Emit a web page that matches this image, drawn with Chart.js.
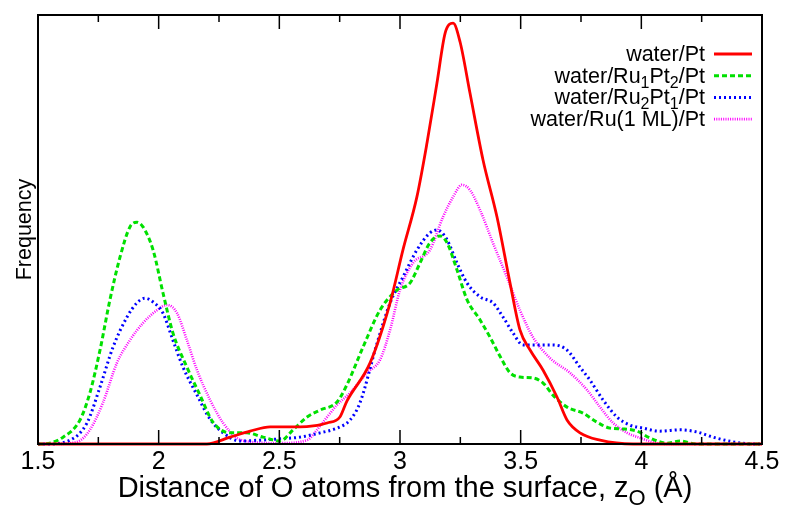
<!DOCTYPE html>
<html>
<head>
<meta charset="utf-8">
<script src="https://cdn.jsdelivr.net/npm/chart.js@4.4.0/dist/chart.umd.min.js"></script>
<style>
  html, body { margin: 0; padding: 0; background: #fff; }
</style>
</head>
<body>
<canvas id="dist" width="786" height="505"></canvas>
<script>
// series names, "_x" = subscript x
const names = ['water/Pt', 'water/Ru_1Pt_2/Pt', 'water/Ru_2Pt_1/Pt', 'water/Ru(1 ML)/Pt'];
const xTicks = [1.5, 2, 2.5, 3, 3.5, 4, 4.5];

// water/Pt
const ptX = [1.5, 2.2, 2.296, 2.379, 2.462, 2.586, 2.64, 2.698, 2.751, 2.78, 2.876, 2.959, 3.012, 3.07, 3.112, 3.153, 3.187, 3.22, 3.249, 3.29, 3.344, 3.402, 3.456, 3.497, 3.539, 3.593, 3.651, 3.692, 3.746, 3.829, 3.966, 4.5];
const ptY = [0, 0, 1.6, 3.0, 4.0, 4.0, 4.2, 4.9, 6.3, 10.0, 18.9, 32.9, 45.2, 57.6, 70.2, 84.1, 95.8, 98.1, 93.7, 81.8, 66.2, 52.9, 37.5, 26.6, 21.9, 17.2, 10.9, 5.6, 2.6, 0.9, 0, 0];

// water/Ru1Pt2/Pt
const ru1X = [1.5, 1.521, 1.604, 1.674, 1.715, 1.757, 1.798, 1.84, 1.881, 1.91, 1.935, 1.977, 2.018, 2.059, 2.117, 2.171, 2.225, 2.296, 2.366, 2.432, 2.503, 2.557, 2.615, 2.669, 2.739, 2.78, 2.847, 2.917, 2.988, 3.041, 3.083, 3.124, 3.166, 3.195, 3.236, 3.278, 3.332, 3.373, 3.414, 3.456, 3.497, 3.551, 3.593, 3.634, 3.692, 3.758, 3.816, 3.87, 3.924, 3.982, 4.036, 4.106, 4.16, 4.231, 4.5];
const ru1Y = [0, 0, 1.6, 5.6, 11.9, 21.9, 33.6, 43.6, 50.6, 51.7, 50.6, 45.2, 35.2, 25.9, 17.9, 11.4, 5.1, 2.6, 2.6, 1.6, 0.7, 3.3, 6.3, 7.9, 9.8, 13.8, 22.6, 31.2, 35.9, 37.5, 42.2, 46.9, 48.5, 46.9, 40.6, 33.6, 28.9, 24.9, 20.5, 16.6, 15.6, 15.4, 14.2, 11.4, 8.6, 7.2, 5.1, 3.7, 3.5, 3.0, 1.4, 0.2, 0.7, 0, 0];

// water/Ru2Pt1/Pt
const ru2X = [1.5, 1.537, 1.633, 1.703, 1.757, 1.811, 1.869, 1.91, 1.943, 1.977, 2.018, 2.059, 2.101, 2.159, 2.213, 2.267, 2.337, 2.42, 2.503, 2.586, 2.669, 2.739, 2.793, 2.834, 2.905, 2.959, 3.012, 3.07, 3.124, 3.153, 3.195, 3.236, 3.278, 3.332, 3.385, 3.427, 3.468, 3.51, 3.568, 3.634, 3.692, 3.746, 3.787, 3.841, 3.899, 3.953, 4.007, 4.077, 4.16, 4.231, 4.297, 4.38, 4.463, 4.5];
const ru2Y = [0, 0, 0.9, 4.9, 13.3, 22.6, 29.6, 32.9, 34.0, 33.1, 30.5, 24.2, 17.9, 11.4, 5.8, 2.6, 0.7, 0.9, 1.2, 1.6, 2.6, 3.7, 5.6, 9.6, 23.5, 32.9, 38.9, 45.2, 49.2, 49.9, 47.6, 42.2, 37.5, 34.3, 32.9, 29.6, 25.9, 23.1, 23.1, 23.1, 21.9, 17.9, 14.9, 10.3, 6.3, 4.4, 3.7, 3.0, 3.3, 2.8, 1.6, 0.5, 0, 0];

// water/Ru(1 ML)/Pt
const mlX = [1.5, 1.562, 1.662, 1.715, 1.769, 1.827, 1.881, 1.935, 1.993, 2.035, 2.076, 2.117, 2.159, 2.213, 2.267, 2.325, 2.378, 2.503, 2.615, 2.656, 2.698, 2.739, 2.793, 2.863, 2.917, 2.959, 3.0, 3.054, 3.124, 3.178, 3.22, 3.257, 3.29, 3.332, 3.385, 3.443, 3.497, 3.551, 3.622, 3.704, 3.775, 3.829, 3.883, 3.941, 3.995, 4.065, 4.12, 4.5];
const mlY = [0, 0, 0.5, 3.3, 9.6, 18.9, 24.2, 28.2, 31.2, 32.4, 30.5, 24.2, 17.2, 10.3, 4.9, 1.4, 0.5, 0.2, 0.9, 3.3, 6.3, 9.1, 11.9, 16.6, 19.6, 26.6, 35.9, 42.2, 45.2, 52.9, 57.6, 60.4, 59.2, 54.5, 46.9, 38.9, 31.2, 24.9, 20.0, 16.6, 12.6, 8.6, 4.9, 2.6, 1.4, 0.2, 0, 0];

const FONT = "'Liberation Sans', Arial, sans-serif";
const colors = ['#ff0000', '#00e000', '#0000ff', '#ff00ff'];
const dashes = [[], [5, 3], [2, 3], [1, 1.3]];
const widths = [2.8, 3, 3, 2.6];

function pts(xs, ys) {
  return xs.map((x, i) => ({ x: x, y: ys[i] }));
}

// text with subscripts, right aligned or centred
function richText(c, text, x, base, size, subSize, subDy, align) {
  const parts = [];
  for (let i = 0; i < text.length; i++) {
    if (text[i] === '_') { parts.push({ t: text[i + 1], sub: true }); i++; }
    else if (parts.length && !parts[parts.length - 1].sub) parts[parts.length - 1].t += text[i];
    else parts.push({ t: text[i], sub: false });
  }
  let w = 0;
  parts.forEach(p => {
    c.font = (p.sub ? subSize : size) + 'px ' + FONT;
    p.w = c.measureText(p.t).width;
    w += p.w;
  });
  let px = align === 'center' ? x - w / 2 : x - w;
  c.textAlign = 'left';
  c.textBaseline = 'alphabetic';
  parts.forEach(p => {
    c.font = (p.sub ? subSize : size) + 'px ' + FONT;
    c.fillText(p.t, px, base + (p.sub ? subDy : 0));
    px += p.w;
  });
}

const decor = {
  id: 'decor',
  afterDatasetsDraw(chart) {
    const c = chart.ctx, a = chart.chartArea, xs = chart.scales.x;
    c.save();
    c.strokeStyle = '#000';
    c.lineWidth = 1.5;
    c.setLineDash([]);
    for (let v = 1.75; v < 4.49; v += 0.25) {
      const px = xs.getPixelForValue(v);
      const major = Math.abs(v * 2 - Math.round(v * 2)) < 1e-6;
      const len = major ? 14 : 7;
      c.beginPath();
      c.moveTo(px, a.bottom); c.lineTo(px, a.bottom - len);
      c.moveTo(px, a.top); c.lineTo(px, a.top + len);
      c.stroke();
    }
    c.lineWidth = 2;
    c.strokeRect(a.left, a.top, a.right - a.left, a.bottom - a.top);

    // legend
    c.fillStyle = '#000';
    chart.data.datasets.forEach((ds, i) => {
      const ly = 54 + 21.7 * i;
      richText(c, names[i], 705, ly + 7, 21.5, 16, 5, 'right');
      c.beginPath();
      c.strokeStyle = colors[i];
      c.lineWidth = widths[i];
      c.setLineDash(dashes[i]);
      c.moveTo(714, ly); c.lineTo(752, ly);
      c.stroke();
    });
    c.setLineDash([]);

    // x axis title
    c.fillStyle = '#000';
    richText(c, 'Distance of O atoms from the surface, z_O (Å)', 405, 497, 29, 22, 8, 'center');
    c.restore();
  }
};

new Chart(document.getElementById('dist'), {
  type: 'line',
  data: {
    datasets: [
      { label: 'water/Pt', data: pts(ptX, ptY) },
      { label: 'water/Ru₁Pt₂/Pt', data: pts(ru1X, ru1Y) },
      { label: 'water/Ru₂Pt₁/Pt', data: pts(ru2X, ru2Y) },
      { label: 'water/Ru(1 ML)/Pt', data: pts(mlX, mlY) }
    ].map((d, i) => Object.assign(d, {
      borderColor: colors[i],
      borderWidth: widths[i],
      borderDash: dashes[i],
      pointRadius: 0,
      fill: false,
      cubicInterpolationMode: 'monotone',
      clip: 4
    }))
  },
  options: {
    responsive: false,
    animation: false,
    layout: { padding: { left: 0, right: 24, top: 15, bottom: 0 } },
    plugins: { legend: { display: false }, tooltip: { enabled: false } },
    scales: {
      x: {
        type: 'linear',
        min: 1.5,
        max: 4.5,
        afterBuildTicks: s => { s.ticks = xTicks.map(v => ({ value: v })); },
        ticks: { font: { size: 25, family: FONT }, color: '#000', padding: 3, maxRotation: 0, callback: v => String(v) },
        grid: { display: false, drawTicks: false },
        border: { display: false },
        afterFit: s => { s.height = 61; }
      },
      y: {
        min: 0,
        max: 100,
        ticks: { display: false },
        grid: { display: false, drawTicks: false },
        border: { display: false },
        title: { display: true, text: 'Frequency', color: '#000', font: { size: 21.5, family: FONT }, padding: { top: 12, bottom: 0 } },
        afterFit: s => { s.width = 38; }
      }
    }
  },
  plugins: [decor]
});
</script>
</body>
</html>
